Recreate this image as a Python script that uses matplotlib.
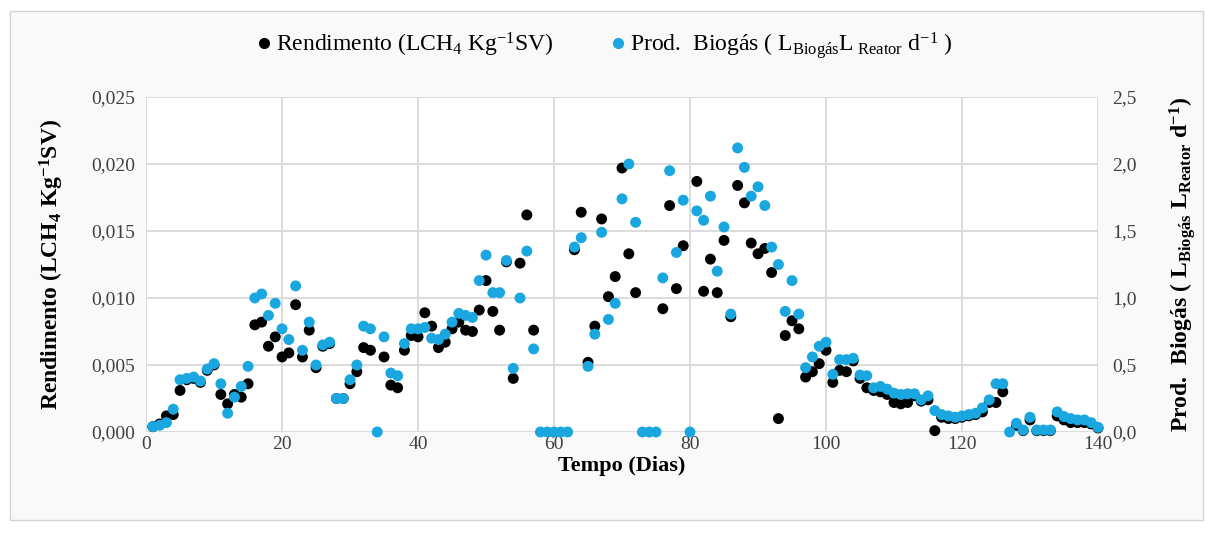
import numpy as np
import matplotlib
matplotlib.use("Agg")
import matplotlib.pyplot as plt
from matplotlib.lines import Line2D
from matplotlib.patches import Rectangle

plt.rcParams.update({
    "font.family": ["Liberation Serif", "DejaVu Serif"],
    "mathtext.fontset": "custom",
    "mathtext.rm": "Liberation Serif",
    "mathtext.it": "Liberation Serif:italic",
    "mathtext.bf": "Liberation Serif:bold",
})

nan = np.nan
dias = list(range(1, 141))

# Rendimento (LCH4 Kg-1 SV), one value per day
rendimento = [
    0.0004, 0.0006, 0.0012, 0.0013, 0.0031, 0.0039, 0.0040, 0.0037, 0.0046, 0.0050,
    0.0028, 0.0021, 0.0028, 0.0026, 0.0036, 0.0080, 0.0082, 0.0064, 0.0071, 0.0056,
    0.0059, 0.0095, 0.0056, 0.0076, 0.0048, 0.0064, 0.0066, 0.0025, 0.0025, 0.0036,
    0.0045, 0.0063, 0.0061, nan, 0.0056, 0.0035, 0.0033, 0.0061, 0.0072, 0.0071,
    0.0089, 0.0079, 0.0063, 0.0067, 0.0077, 0.0082, 0.0076, 0.0075, 0.0091, 0.0113,
    0.0090, 0.0076, 0.0127, 0.0040, 0.0126, 0.0162, 0.0076, nan, nan, nan,
    nan, nan, 0.0136, 0.0164, 0.0052, 0.0079, 0.0159, 0.0101, 0.0116, 0.0197,
    0.0133, 0.0104, nan, nan, nan, 0.0092, 0.0169, 0.0107, 0.0139, nan,
    0.0187, 0.0105, 0.0129, 0.0104, 0.0143, 0.0086, 0.0184, 0.0171, 0.0141, 0.0133,
    0.0137, 0.0119, 0.0010, 0.0072, 0.0083, 0.0077, 0.0041, 0.0045, 0.0051, 0.0061,
    0.0037, 0.0046, 0.0045, 0.0053, 0.0040, 0.0033, 0.0031, 0.0030, 0.0028, 0.0022,
    0.0021, 0.0022, 0.0027, 0.0023, 0.0024, 0.0001, 0.0011, 0.0010, 0.0010, 0.0011,
    0.0012, 0.0013, 0.0015, 0.0022, 0.0022, 0.0030, nan, 0.0005, 0.0001, 0.0009,
    0.0001, 0.0001, 0.0001, 0.0012, 0.0009, 0.0007, 0.0007, 0.0007, 0.0006, 0.0003,
]

# Prod. Biogas (L biogas / L reator / d), one value per day
biogas = [
    0.04, 0.05, 0.07, 0.17, 0.39, 0.40, 0.41, 0.38, 0.47, 0.51,
    0.36, 0.14, 0.26, 0.34, 0.49, 1.00, 1.03, 0.87, 0.96, 0.77,
    0.69, 1.09, 0.61, 0.82, 0.50, 0.65, 0.67, 0.25, 0.25, 0.39,
    0.50, 0.79, 0.77, 0.00, 0.71, 0.44, 0.42, 0.66, 0.77, 0.77,
    0.78, 0.70, 0.69, 0.73, 0.82, 0.885, 0.87, 0.855, 1.13, 1.32,
    1.04, 1.04, 1.28, 0.475, 1.00, 1.35, 0.62, 0.00, 0.00, 0.00,
    0.00, 0.00, 1.38, 1.45, 0.49, 0.73, 1.49, 0.84, 0.96, 1.74,
    2.00, 1.565, 0.00, 0.00, 0.00, 1.15, 1.95, 1.34, 1.73, 0.00,
    1.65, 1.58, 1.76, 1.20, 1.53, 0.88, 2.12, 1.975, 1.76, 1.83,
    1.69, 1.38, 1.25, 0.90, 1.13, 0.88, 0.48, 0.56, 0.64, 0.67,
    0.43, 0.54, 0.54, 0.55, 0.425, 0.42, 0.33, 0.34, 0.32, 0.29,
    0.28, 0.285, 0.285, 0.24, 0.27, 0.16, 0.13, 0.12, 0.11, 0.12,
    0.13, 0.14, 0.18, 0.24, 0.36, 0.36, 0.00, 0.065, 0.015, 0.11,
    0.015, 0.015, 0.015, 0.15, 0.115, 0.10, 0.09, 0.09, 0.07, 0.035,
]

x_ticks = [0, 20, 40, 60, 80, 100, 120, 140]
y_left_ticks = [0.000, 0.005, 0.010, 0.015, 0.020, 0.025]
y_right_ticks = [0.0, 0.5, 1.0, 1.5, 2.0, 2.5]

BLUE = "#1aa7e0"
GRID = "#d9d9d9"

fig = plt.figure(figsize=(12.05, 5.33), dpi=100, facecolor="white")
fig.patches.append(Rectangle((0.008, 0.025), 0.99, 0.955, transform=fig.transFigure,
                             facecolor="#f9f9f9", edgecolor="#d4d4d4", linewidth=1.0,
                             zorder=-10))

ax = fig.add_axes([0.1212, 0.1895, 0.79, 0.6285])
ax.set_facecolor("white")
ax2 = ax.twinx()

ax.scatter(dias, rendimento, s=62, color="black", edgecolors="none", clip_on=False, zorder=3)
ax2.scatter(dias, biogas, s=62, color=BLUE, edgecolors="none", clip_on=False, zorder=3)

ax.set_xlim(0, 140)
ax.set_ylim(0, 0.025)
ax2.set_ylim(0, 2.5)
ax.set_xticks(x_ticks)
ax.set_xticklabels([str(t) for t in x_ticks], fontsize=14)
ax.set_yticks(y_left_ticks)
ax.set_yticklabels([f"{t:.3f}".replace(".", ",") for t in y_left_ticks], fontsize=14)
ax2.set_yticks(y_right_ticks)
ax2.set_yticklabels([f"{t:.1f}".replace(".", ",") for t in y_right_ticks], fontsize=14)

for a in (ax, ax2):
    for s in a.spines.values():
        s.set_visible(False)
    a.tick_params(length=0, pad=8, colors="#404040")
ax.tick_params(axis="x", pad=3)
ax2.tick_params(axis="y", pad=10)
ax.grid(True, color=GRID, linewidth=1.3)
ax.set_axisbelow(True)

ax.set_xlabel(r"Tempo (Dias)", fontsize=16, fontweight="bold", labelpad=2)
ax.set_ylabel(r"Rendimento (LCH$_\mathbf{4}$ Kg$^\mathbf{-1}$SV)", fontsize=17,
              fontweight="bold", labelpad=18)
ax2.set_ylabel(r"Prod.  Biogás ( L$_{\mathbf{Biogás}}$ L$_{\mathbf{Reator}}$ d$^{\mathbf{-1}}$)",
               fontsize=17, fontweight="bold", labelpad=22)

handles = [
    Line2D([], [], marker="o", linestyle="none", color="black", markersize=7),
    Line2D([], [], marker="o", linestyle="none", color=BLUE, markersize=7),
]
labels = [
    r"Rendimento (LCH$_4$ Kg$^{-1}$SV)",
    r"Prod.  Biogás ( L$_{\mathrm{Biogás}}$L$_{\mathrm{\ Reator}}$ d$^{-1}$ )",
]
fig.legend(handles, labels, loc="center", bbox_to_anchor=(0.5, 0.915), ncol=2,
           frameon=False, fontsize=17, handletextpad=0.0, columnspacing=2.2,
           handlelength=1.0)

fig.savefig("out.png", dpi=100, facecolor=fig.get_facecolor())
